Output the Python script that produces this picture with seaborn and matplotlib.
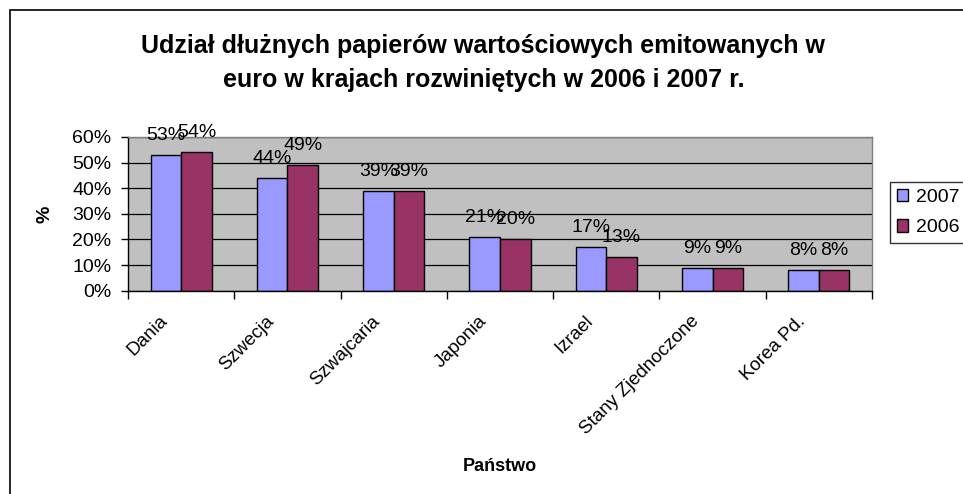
import matplotlib

matplotlib.use("Agg")

import matplotlib.pyplot as plt
import numpy as np
import pandas as pd
import seaborn as sns
from matplotlib.patches import Rectangle
from matplotlib.ticker import FixedLocator, FuncFormatter
from matplotlib.transforms import ScaledTranslation

# ── data ──
countries = ["Dania", "Szwecja", "Szwajcaria", "Japonia", "Izrael",
             "Stany Zjednoczone", "Korea Pd."]
share_2007 = [53, 44, 39, 21, 17, 9, 8]
share_2006 = [54, 49, 39, 20, 13, 9, 8]
years = ["2007", "2006"]
year_colors = ["#9999FF", "#993366"]

title = ("Udział dłużnych papierów wartościowych emitowanych w\n"
         "euro w krajach rozwiniętych w 2006 i 2007 r.")

df = pd.DataFrame({
    "Państwo": countries * 2,
    "Rok": [years[0]] * len(countries) + [years[1]] * len(countries),
    "Udział": share_2007 + share_2006,
})

sns.set_theme(style="white")
plt.rcParams["font.family"] = ["Liberation Sans", "DejaVu Sans"]
for key in ("text.color", "axes.labelcolor", "xtick.color", "ytick.color"):
    plt.rcParams[key] = "black"

fig = plt.figure(figsize=(9.63, 4.94), dpi=100)
ax = fig.add_axes([0.1329, 0.4115, 0.7726, 0.3112])

sns.barplot(data=df, x="Państwo", y="Udział", hue="Rok", hue_order=years,
            palette=year_colors, width=0.575, edgecolor="black", linewidth=1,
            saturation=1, ax=ax, legend=True)

ax.set_facecolor("#C0C0C0")
ax.set_ylim(0, 60)
ax.set_xlim(-0.5, len(countries) - 0.5)
ax.yaxis.set_major_locator(FixedLocator(np.arange(0, 61, 10)))
ax.yaxis.set_major_formatter(FuncFormatter(lambda v, _: f"{v:.0f}%"))
ax.grid(axis="y", color="black", linewidth=0.9)
ax.set_axisbelow(True)

for c in ax.containers:
    ax.bar_label(c, labels=[f"{v:.0f}%" for v in c.datavalues],
                 padding=8, fontsize=14, color="black")

# Excel-style ticks between categories
ax.set_xticks(range(len(countries)))
ax.set_xticklabels(countries, rotation=45, ha="right", va="center",
                   rotation_mode="anchor", fontsize=13.5)
ax.tick_params(axis="x", which="major", length=0, pad=20)
shift = ScaledTranslation(-16 / 100, 0, fig.dpi_scale_trans)
for lbl in ax.get_xticklabels():
    lbl.set_transform(lbl.get_transform() + shift)
ax.set_xticks(np.arange(-0.5, len(countries), 1), minor=True)
ax.tick_params(axis="x", which="minor", length=6, width=1, color="black",
               direction="out", bottom=True)
ax.tick_params(axis="y", length=5, width=1, color="black", direction="out",
               left=True, labelsize=14, pad=7)

for side in ("left", "bottom"):
    ax.spines[side].set_color("black")
    ax.spines[side].set_linewidth(1)
for side in ("top", "right"):
    ax.spines[side].set_color("#808080")
    ax.spines[side].set_linewidth(1)

ax.set_xlabel("Państwo", fontsize=13, fontweight="bold")
ax.xaxis.set_label_coords(0.5, -1.09)
ax.set_ylabel("%", fontsize=14, fontweight="bold")
ax.yaxis.set_label_coords(-0.1, 0.5)

leg = ax.legend(loc="upper left", bbox_to_anchor=(0.924, 0.632),
                bbox_transform=fig.transFigure, fontsize=14, frameon=True,
                fancybox=False, shadow=False, handlelength=0.6,
                handleheight=0.6, handletextpad=0.4, borderpad=0.35,
                labelspacing=0.7, borderaxespad=0)
leg.get_frame().set_edgecolor("black")
leg.get_frame().set_linewidth(1)

fig.text(0.502, 1 - 63 / 494, title, ha="center", va="center",
         fontsize=18, fontweight="bold", linespacing=1.5)

# chart frame
fig.patches.append(Rectangle((9.5 / 963, -0.1), 1.2, 1.1 - 10.5 / 494,
                             transform=fig.transFigure, fill=False,
                             edgecolor="black", linewidth=1.2))

fig.savefig("out.png", dpi=100)
